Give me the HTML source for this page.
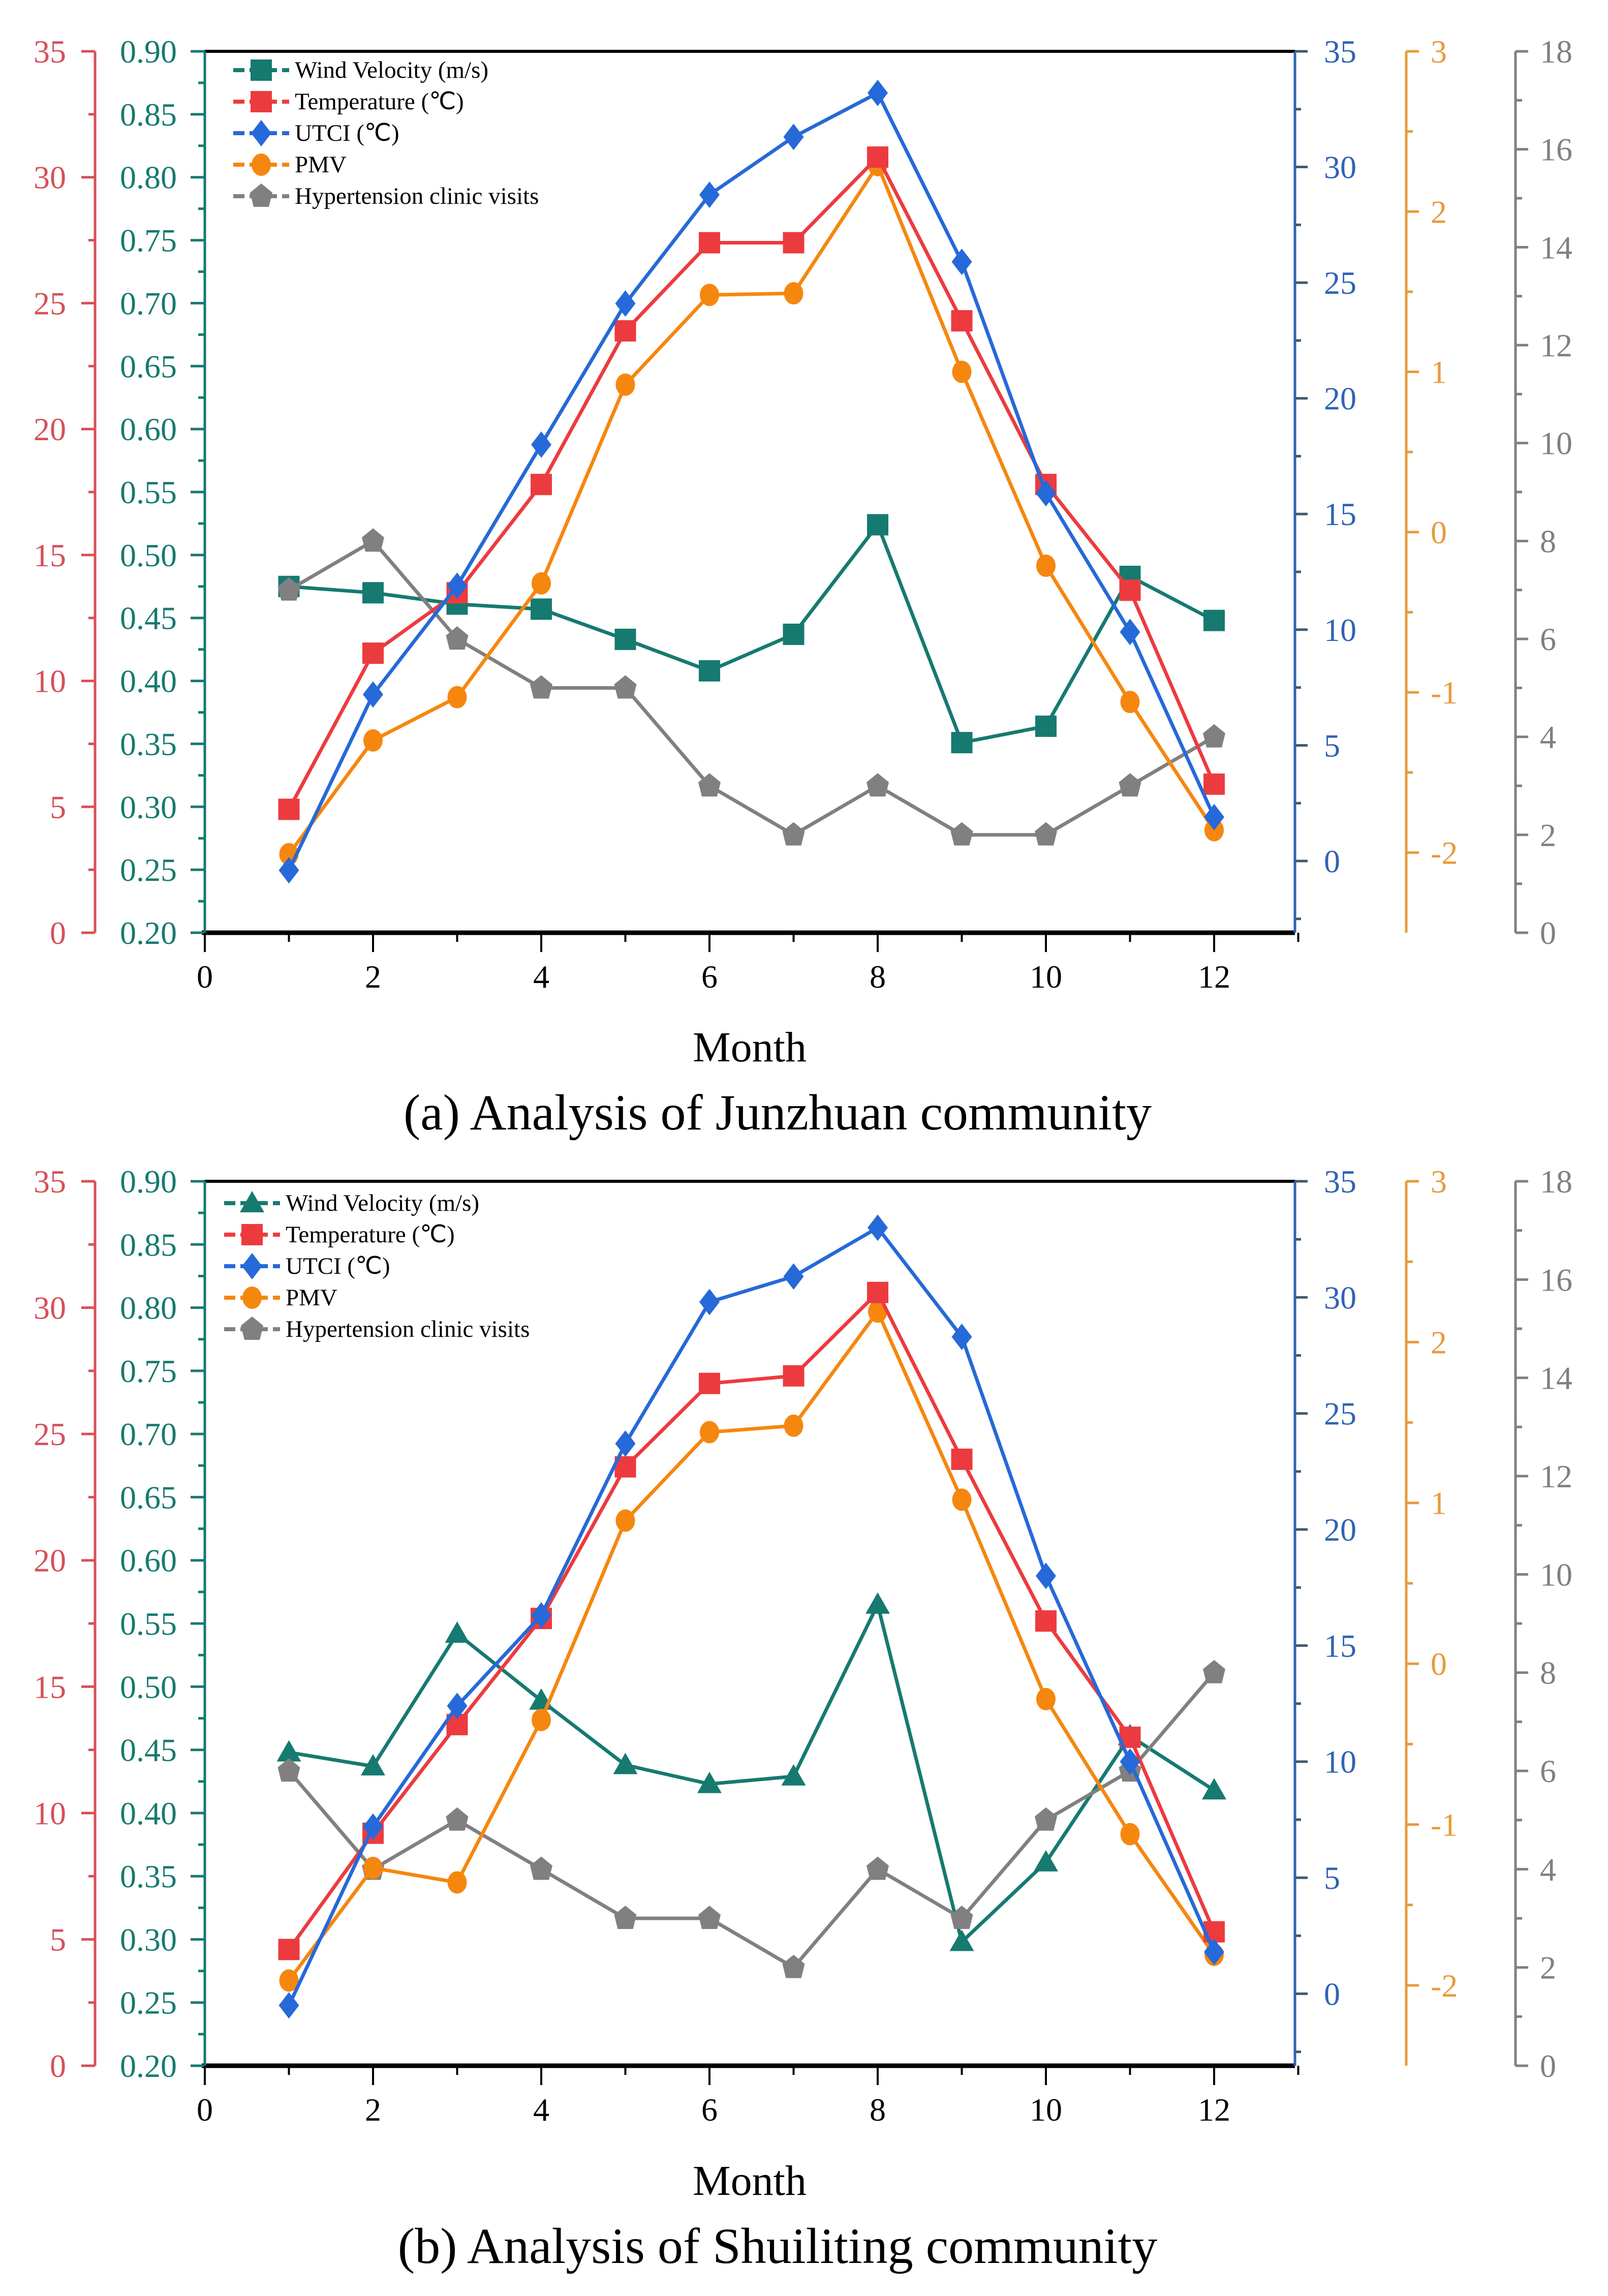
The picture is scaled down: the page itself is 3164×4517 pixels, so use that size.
<!DOCTYPE html>
<html><head><meta charset="utf-8"><style>
html,body{margin:0;padding:0;background:#fff;}
svg{display:block;}
text{font-family:"Liberation Serif",serif;}
</style></head><body>
<svg id="fig" width="3164" height="4517" viewBox="0 0 3164 4517" xmlns="http://www.w3.org/2000/svg"></svg>
<script>
// ---- data ----
const months = [1,2,3,4,5,6,7,8,9,10,11,12];
const xTicks = [0,2,4,6,8,10,12];
const redTicks = [0,5,10,15,20,25,30,35];
const tealTicks = [0.20,0.25,0.30,0.35,0.40,0.45,0.50,0.55,0.60,0.65,0.70,0.75,0.80,0.85,0.90];
const blueTicks = [0,5,10,15,20,25,30,35];
const orangeTicks = [-2,-1,0,1,2,3];
const grayTicks = [0,2,4,6,8,10,12,14,16,18];

const windA = [0.475,0.470,0.461,0.457,0.433,0.408,0.437,0.524,0.351,0.364,0.483,0.448];
const tempA = [4.9,11.1,13.5,17.8,23.9,27.4,27.4,30.8,24.3,17.8,13.6,5.9];
const utciA = [-0.4,7.2,11.9,18.0,24.1,28.8,31.3,33.2,25.9,15.9,9.9,1.9];
const pmvA = [-2.01,-1.30,-1.03,-0.32,0.92,1.48,1.49,2.29,1.00,-0.21,-1.06,-1.86];
const visitsA = [7,8,6,5,5,3,2,3,2,2,3,4];

const windB = [0.448,0.437,0.542,0.489,0.438,0.423,0.429,0.565,0.298,0.361,0.461,0.418];
const tempB = [4.6,9.2,13.5,17.7,23.7,27.0,27.3,30.6,24.0,17.6,13.0,5.3];
const utciB = [-0.5,7.2,12.4,16.3,23.7,29.8,30.9,33.0,28.3,18.0,10.0,1.8];
const pmvB = [-1.97,-1.27,-1.36,-0.35,0.89,1.44,1.48,2.19,1.02,-0.22,-1.06,-1.81];
const visitsB = [6,4,5,4,3,3,2,4,3,5,6,8];

const C = {teal:'#167a70', red:'#ec3b3f', redAx:'#d65058', blue:'#2669d8', blueAx:'#2f63b5', orange:'#f5870f', orangeAx:'#e89a3c', gray:'#808080'};
const NS='http://www.w3.org/2000/svg';
const svg=document.getElementById('fig');
function el(tag,attrs,parent,txt){const e=document.createElementNS(NS,tag);for(const k in attrs)e.setAttribute(k,attrs[k]);if(txt!==undefined)e.textContent=txt;(parent||svg).appendChild(e);return e;}

function marker(g,type,x,y,color){
  const s=21;let m;
  if(type==='square') m=el('rect',{x:x-s,y:y-s,width:2*s,height:2*s,fill:color},g);
  else if(type==='diamond') m=el('polygon',{points:`${x},${y-26} ${x+20},${y} ${x},${y+26} ${x-20},${y}`,fill:color},g);
  else if(type==='circle') m=el('ellipse',{cx:x,cy:y,rx:19,ry:22,fill:color},g);
  else if(type==='triangle') m=el('polygon',{points:`${x},${y-24} ${x+24},${y+18} ${x-24},${y+18}`,fill:color},g);
  else m=el('polygon',{points:`${x},${y-25} ${x+22},${y-7} ${x+15},${y+21} ${x-15},${y+21} ${x-22},${y-7}`,fill:color},g);
  return m;
}
const TF=64;
function panel(top,bottom,d,windMarker,legend,monthY,captionY,caption,pid){
  const L=403,R=2548,H=bottom-top;
  const g=el('g',{});
  
  
  const X=v=>L+v*165.5;
  const yRed=v=>bottom-v/35*H;
  const yTeal=v=>bottom-(v-0.2)/0.7*H;
  const bU=H/38.1, yBlue=v=>top+(35-v)*bU;
  const oU=H/5.5, yOr=v=>top+(3-v)*oU;
  const yGray=v=>bottom-v/18*H;

  el('line',{x1:L,y1:top,x2:R,y2:top,stroke:'#000','stroke-width':6},g);
  el('line',{x1:L-6,y1:bottom,x2:R,y2:bottom,stroke:'#000','stroke-width':9},g);
  const ra=el('g',{},g);
  el('line',{x1:187,y1:top,x2:187,y2:bottom,stroke:C.redAx,'stroke-width':5},ra);
  redTicks.forEach(v=>{const y=yRed(v);el('line',{x1:160,y1:y,x2:187,y2:y,stroke:C.redAx,'stroke-width':5},ra);
    el('text',{x:130,y:y+22,'text-anchor':'end','font-size':TF,fill:C.redAx},ra,String(v));
    if(v<35){const y2=yRed(v+2.5);el('line',{x1:174,y1:y2,x2:187,y2:y2,stroke:C.redAx,'stroke-width':5},ra);}});
  const ta=el('g',{},g);
  el('line',{x1:L,y1:top,x2:L,y2:bottom,stroke:C.teal,'stroke-width':5},ta);
  tealTicks.forEach(v=>{const y=yTeal(v);el('line',{x1:L-28,y1:y,x2:L,y2:y,stroke:C.teal,'stroke-width':5},ta);
    el('text',{x:348,y:y+22,'text-anchor':'end','font-size':TF,fill:C.teal},ta,v.toFixed(2));
    if(v<0.89){const y2=yTeal(v+0.025);el('line',{x1:L-13,y1:y2,x2:L,y2:y2,stroke:C.teal,'stroke-width':5},ta);}});
  const ba=el('g',{},g);
  el('line',{x1:R,y1:top,x2:R,y2:bottom,stroke:C.blueAx,'stroke-width':5},ba);
  blueTicks.forEach(v=>{const y=yBlue(v);el('line',{x1:R,y1:y,x2:R+25,y2:y,stroke:'#3e5a70','stroke-width':5},ba);
    el('text',{x:2605,y:y+22,'font-size':TF,fill:C.blueAx},ba,String(v));
    const y2=yBlue(v-2.5);if(y2<bottom)el('line',{x1:R,y1:y2,x2:R+12,y2:y2,stroke:'#3e5a70','stroke-width':5},ba);});
  const oa=el('g',{},g);
  el('line',{x1:2767,y1:top,x2:2767,y2:bottom,stroke:C.orangeAx,'stroke-width':5},oa);
  orangeTicks.forEach(v=>{const y=yOr(v);el('line',{x1:2767,y1:y,x2:2792,y2:y,stroke:C.orangeAx,'stroke-width':5},oa);
    el('text',{x:2815,y:y+22,'font-size':TF,fill:C.orangeAx},oa,String(v));
    const y2=yOr(v-0.5);if(y2<bottom)el('line',{x1:2767,y1:y2,x2:2780,y2:y2,stroke:C.orangeAx,'stroke-width':5},oa);});
  const ga=el('g',{},g);
  el('line',{x1:2982,y1:top,x2:2982,y2:bottom,stroke:C.gray,'stroke-width':5},ga);
  grayTicks.forEach(v=>{const y=yGray(v);el('line',{x1:2982,y1:y,x2:3007,y2:y,stroke:C.gray,'stroke-width':5},ga);
    el('text',{x:3030,y:y+22,'font-size':TF,fill:C.gray},ga,String(v));
    if(v<18){const y2=yGray(v+1);el('line',{x1:2982,y1:y2,x2:2995,y2:y2,stroke:C.gray,'stroke-width':5},ga);}});
  const xa=el('g',{},g);
  for(let m=0;m<=13;m++){const x=X(m);el('line',{x1:x,y1:bottom,x2:x,y2:bottom+(m%2?18:38),stroke:'#000','stroke-width':4},xa);}
  xTicks.forEach(v=>el('text',{x:X(v),y:bottom+108,'text-anchor':'middle','font-size':TF},xa,String(v)));
  const mt=el('text',{x:1475,y:monthY,'text-anchor':'middle','font-size':84},g,'Month');
  
  const ct=el('text',{x:1530,y:captionY,'text-anchor':'middle','font-size':100},g,caption);
  

  const series=[
    {name:'wind-velocity',vals:d.wind,y:yTeal,c:C.teal,m:windMarker},
    {name:'hypertension-visits',vals:d.visits,y:yGray,c:C.gray,m:'pentagon'},
    {name:'pmv',vals:d.pmv,y:yOr,c:C.orange,m:'circle'},
    {name:'temperature',vals:d.temp,y:yRed,c:C.red,m:'square'},
    {name:'utci',vals:d.utci,y:yBlue,c:C.blue,m:'diamond'}];
  series.forEach(s=>{
    const sg=el('g',{},g);
    
    
    const pts=months.map((m,i)=>X(m)+','+s.y(s.vals[i])).join(' ');
    el('polyline',{points:pts,fill:'none',stroke:s.c,'stroke-width':7},sg);
    months.forEach((m,i)=>{const mk=marker(sg,s.m,X(m),s.y(s.vals[i]),s.c);
      
      });
  });
  const lg=el('g',{},g);
  const items=[[windMarker,C.teal,legend[0]],['square',C.red,legend[1]],['diamond',C.blue,legend[2]],['circle',C.orange,legend[3]],['pentagon',C.gray,legend[4]]];
  items.forEach((it,i)=>{const y=d.legY+i*62;const mx=d.legX;
    const eg=el('g',{},lg);
    el('line',{x1:mx-55,y1:y,x2:mx+55,y2:y,stroke:it[1],'stroke-width':8,'stroke-dasharray':'22 10'},eg);
    marker(eg,it[0],mx,y,it[1]);
    el('text',{x:mx+66,y:y+15,'font-size':47},eg,it[2]);});
}
panel(101,1835,{wind:windA,temp:tempA,utci:utciA,pmv:pmvA,visits:visitsA,legX:514,legY:138},'square',
  ['Wind Velocity  (m/s)','Temperature  (℃)','UTCI  (℃)','PMV','Hypertension clinic visits'],2088,2222,'(a) Analysis of Junzhuan community','a');
panel(2324,4064,{wind:windB,temp:tempB,utci:utciB,pmv:pmvB,visits:visitsB,legX:496,legY:2367},'triangle',
  ['Wind Velocity (m/s)','Temperature (℃)','UTCI (℃)','PMV','Hypertension clinic visits'],4318,4452,'(b) Analysis of Shuiliting community','b');
</script>
</body></html>
